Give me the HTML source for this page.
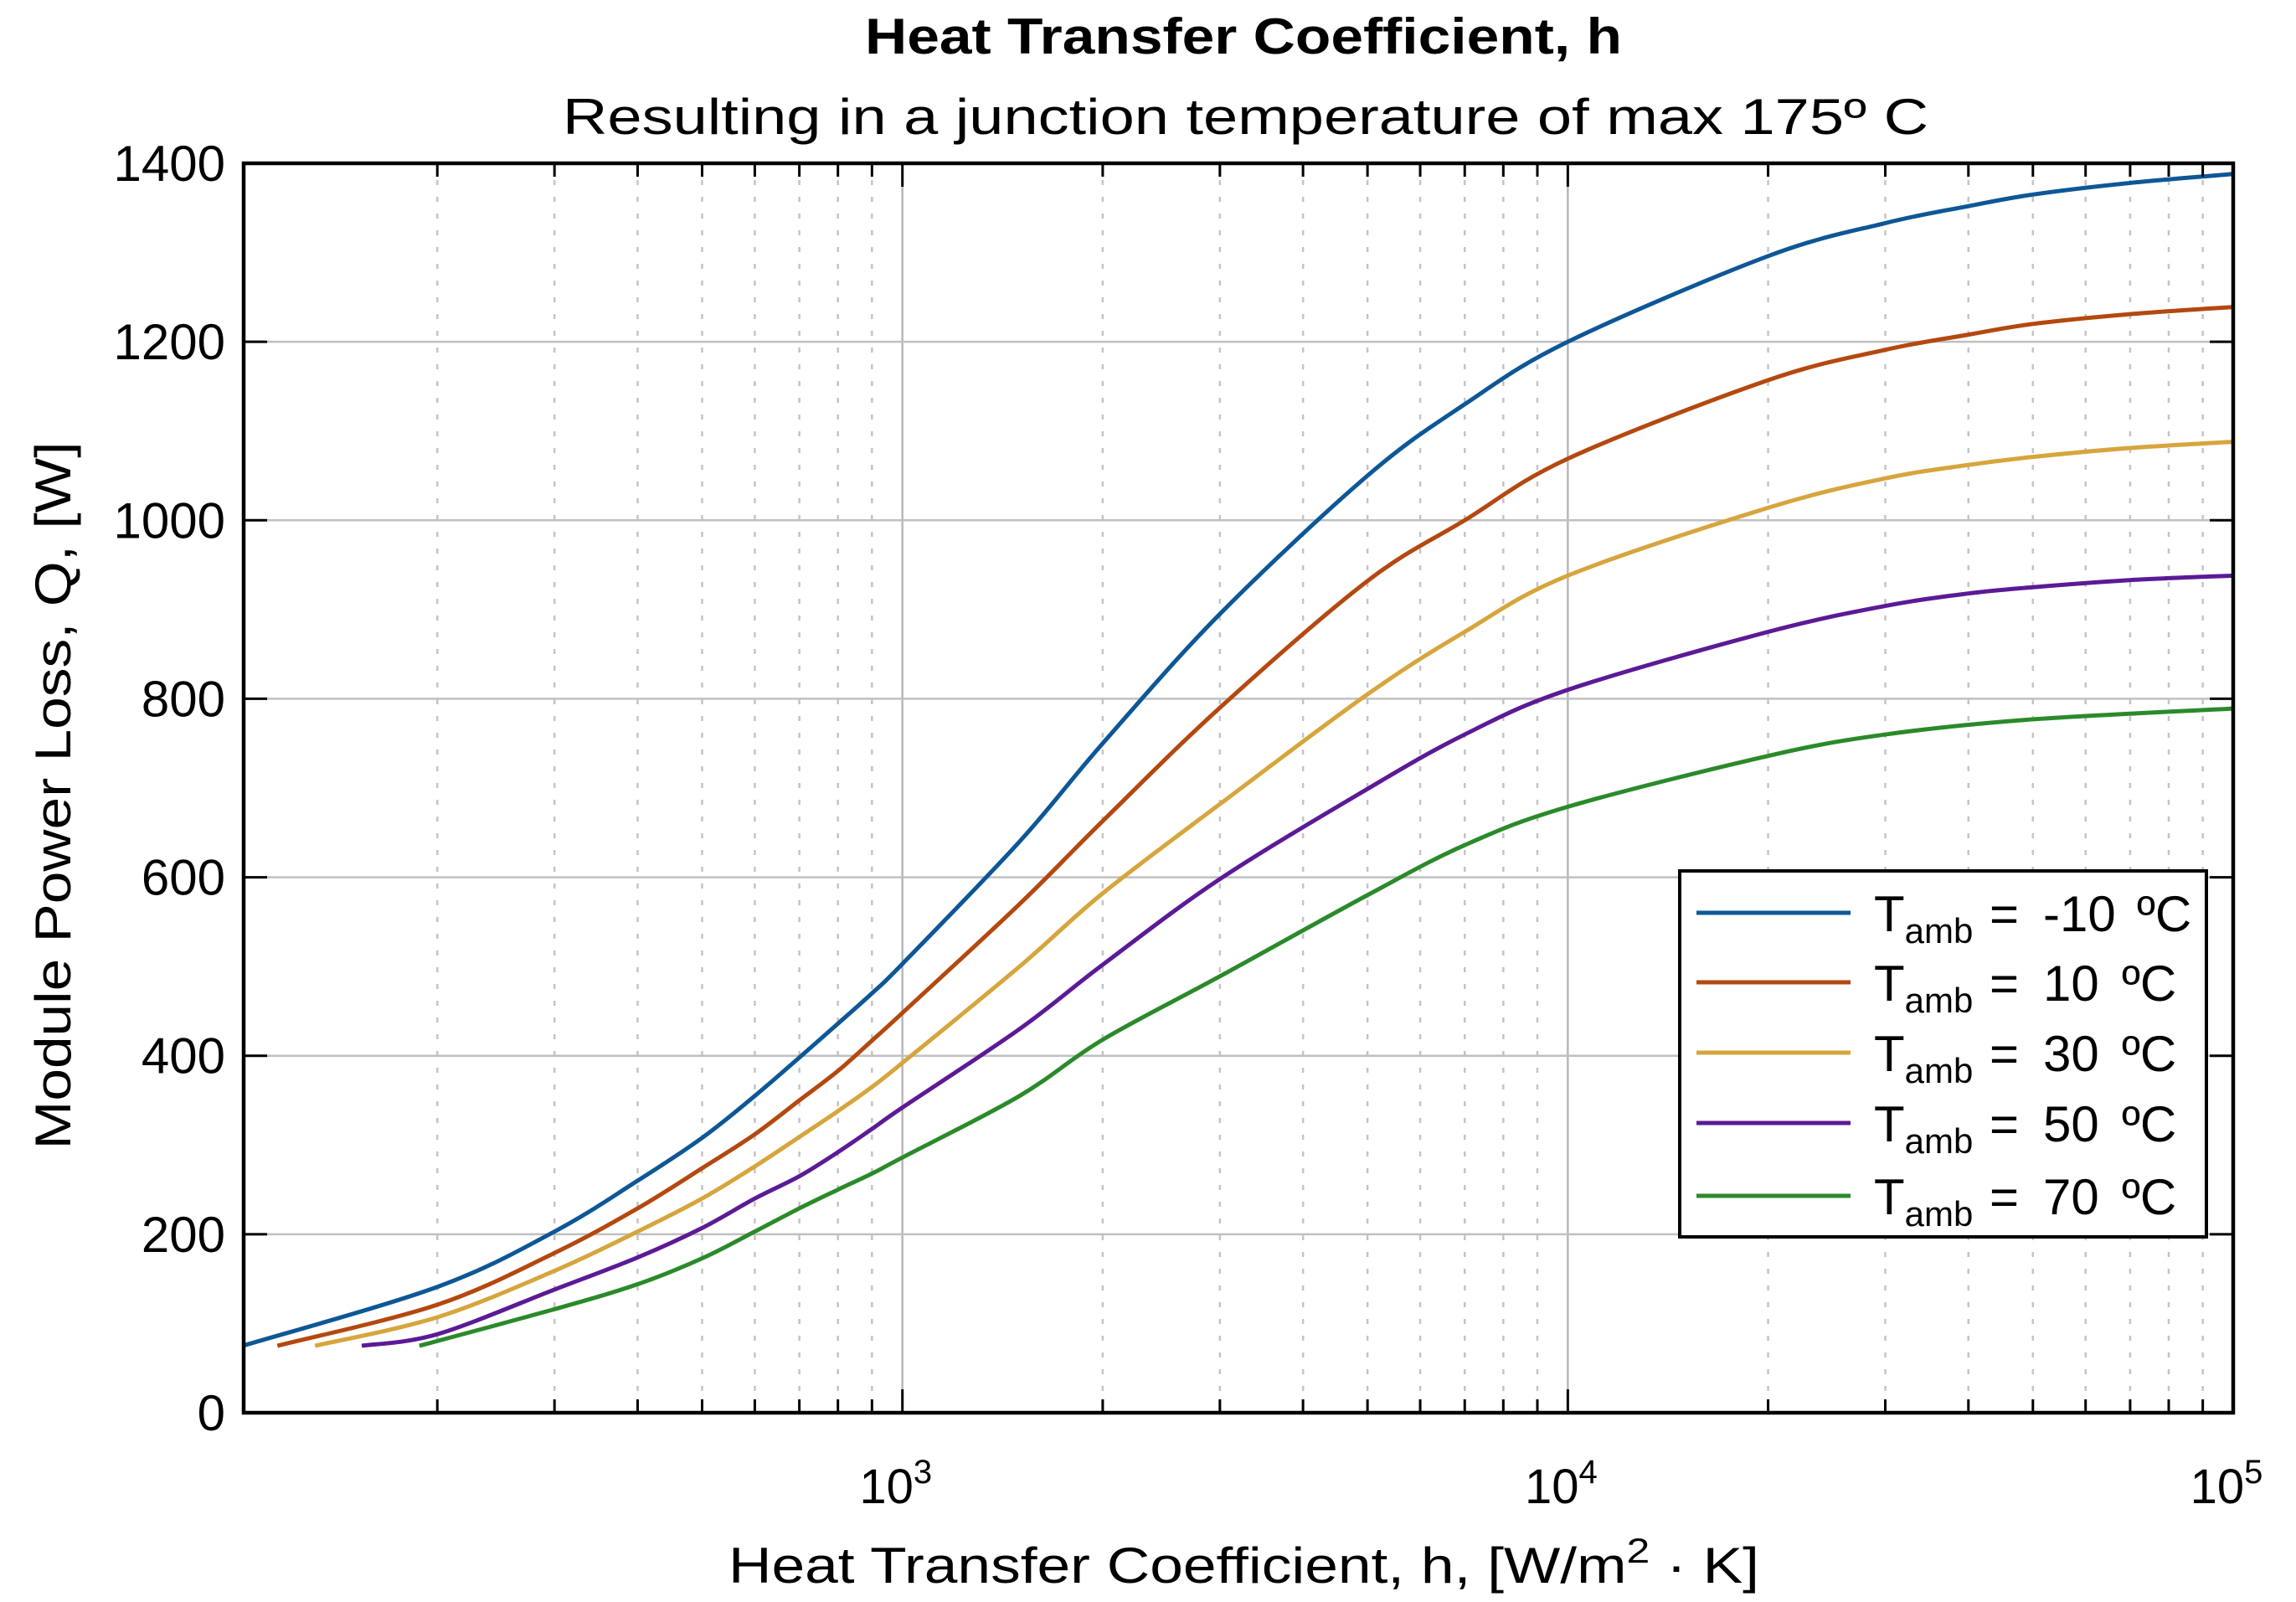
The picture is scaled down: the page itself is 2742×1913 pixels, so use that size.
<!DOCTYPE html>
<html><head><meta charset="utf-8">
<style>
html,body{margin:0;padding:0;background:#fff;}
svg{display:block;}
text{font-family:"Liberation Sans",Arial,sans-serif;fill:#000;}
</style></head>
<body>
<svg id="chart" width="2742" height="1913" viewBox="0 0 2742 1913" xmlns="http://www.w3.org/2000/svg">
<text x="1033" y="64" font-size="60" font-weight="bold" textLength="904" lengthAdjust="spacingAndGlyphs">Heat Transfer Coefficient, h</text>
<text x="672" y="160" font-size="60" textLength="1631" lengthAdjust="spacingAndGlyphs">Resulting  in  a  junction  temperature  of  max  175º  C</text>
<g id="grid"></g>
<g id="series"></g>
<g id="axes"></g>
<text x="870" y="1890" font-size="60" textLength="1231" lengthAdjust="spacingAndGlyphs">Heat  Transfer  Coefficient,  h,  [W/m<tspan dy="-24" font-size="42">2</tspan><tspan dy="24"> · K]</tspan></text>
<text transform="translate(84,950) rotate(-90)" text-anchor="middle" font-size="60" textLength="845" lengthAdjust="spacingAndGlyphs">Module Power Loss, Q, [W]</text>
<g id="legend"></g>
</svg>
<script>
const hBlue   = [102,200,300,400,500,600,700,800,900,1000,1500,2000,3000,5000,7000,10000,20000,30000,40000,50000,70000,100000];
const hRed    = [115,200,300,400,500,600,700,800,900,1000,1500,2000,3000,5000,7000,10000,20000,30000,40000,50000,70000,100000];
const hYellow = [131,200,300,400,500,600,700,800,900,1000,1500,2000,3000,5000,7000,10000,20000,30000,40000,50000,70000,100000];
const hPurple = [154,200,300,400,500,600,700,800,900,1000,1500,2000,3000,5000,7000,10000,20000,30000,40000,50000,70000,100000];
const hGreen  = [188,300,400,500,600,700,800,900,1000,1500,2000,3000,5000,7000,10000,20000,30000,50000,100000];
const qM10 = [75,141,203,260,308,355,398,436,470,503,640,750,895,1050,1130,1200,1296,1333,1352,1365,1378,1388];
const q10  = [75,121,179,229,274,312,350,383,417,448,570,663,790,932,1000,1069,1157,1191,1208,1220,1231,1239];
const q30  = [75,107,159,203,240,276,309,338,365,392,500,582,682,805,875,938,1014,1047,1062,1071,1081,1088];
const q50  = [75,88,138,174,207,240,265,292,318,342,430,502,598,699,760,810,875,904,918,925,933,938];
const q70  = [75,116,144,173,203,229,250,268,286,355,418,489,580,636,679,736,760,777,789];
const seriesNames = ["-10","10","30","50","70"];
const seriesColors = ["#0d5796","#b4480f","#d6a53c","#5b1a96","#2a8a2a"];
const yTicks = [0,200,400,600,800,1000,1200,1400];
const xDecades = [3,4,5];

const L=291,R=2667,T=195,B=1687;
const lgMin=2.01,lgMax=5.0,yMax=1400;
const xs = h => L + (Math.log10(h)-lgMin)/(lgMax-lgMin)*(R-L);
const ys = v => B - v/yMax*(B-T);
const NS="http://www.w3.org/2000/svg";
function mk(tag, attrs, parent){const e=document.createElementNS(NS,tag);for(const k in attrs)e.setAttribute(k,attrs[k]);parent.appendChild(e);return e;}
const grid=document.getElementById('grid'), axes=document.getElementById('axes'), ser=document.getElementById('series'), leg=document.getElementById('legend');

for(let d=2; d<5; d++){
  for(let m=1;m<10;m++){
    const h=m*Math.pow(10,d); if(Math.log10(h)<lgMin) continue;
    const x=xs(h);
    if(m===1){
      const g=mk('line',{x1:x,x2:x,y1:T,y2:B,stroke:'#b8b8b8','stroke-width':2.5},grid);
      
      
    } else {
      const g=mk('line',{x1:x,x2:x,y1:T,y2:B,stroke:'#c4c4c4','stroke-width':2.5,'stroke-dasharray':'6 14'},grid);
      
      
    }
    const t1=mk('line',{x1:x,x2:x,y1:B,y2:B-(m===1?28:16),stroke:'#000','stroke-width':3},axes);
    
    
    const t2=mk('line',{x1:x,x2:x,y1:T,y2:T+(m===1?28:16),stroke:'#000','stroke-width':3},axes);
    
    
  }
}
yTicks.forEach(v=>{
  const y=ys(v);
  if(v>0&&v<yMax){
    const g=mk('line',{x1:L,x2:R,y1:y,y2:y,stroke:'#c0c0c0','stroke-width':2.5},grid);
    
    
  }
  const t=mk('line',{x1:L,x2:L+28,y1:y,y2:y,stroke:'#000','stroke-width':3},axes);
  
  
  const t2=mk('line',{x1:R,x2:R-28,y1:y,y2:y,stroke:'#000','stroke-width':3},axes);
  
  
  const lb=mk('text',{x:L-22,y:y+21,'text-anchor':'end','font-size':60},axes);
  lb.textContent=v;
  
  
});
xDecades.forEach(d=>{
  const x=xs(Math.pow(10,d));
  const lb=mk('text',{x:x-8,y:1795,'text-anchor':'middle','font-size':58},axes);
  lb.textContent='10';
  const s=mk('tspan',{dy:-24,'font-size':40},lb); s.textContent=d;
  
  
});
const frame=mk('rect',{x:L,y:T,width:R-L,height:B-T,fill:'none',stroke:'#000','stroke-width':4.5},axes);



const hAll=[hBlue,hRed,hYellow,hPurple,hGreen];
const qAll=[qM10,q10,q30,q50,q70];
function pathFor(hs,qs){
  const p=hs.map((h,i)=>[xs(h),ys(qs[i])]);
  let d=`M${p[0][0]},${p[0][1]}`;
  for(let i=0;i<p.length-1;i++){
    const p0=p[Math.max(0,i-1)],p1=p[i],p2=p[i+1],p3=p[Math.min(p.length-1,i+2)];
    const c1=[p1[0]+(p2[0]-p0[0])/6,p1[1]+(p2[1]-p0[1])/6];
    const c2=[p2[0]-(p3[0]-p1[0])/6,p2[1]-(p3[1]-p1[1])/6];
    d+=` C${c1[0]},${c1[1]} ${c2[0]},${c2[1]} ${p2[0]},${p2[1]}`;
  }
  return d;
}
qAll.forEach((qs,i)=>{
  const pth=mk('path',{d:pathFor(hAll[i],qs),fill:'none',stroke:seriesColors[i],'stroke-width':5,'stroke-linejoin':'round'},ser);
  
  
});

const lb=mk('rect',{x:2006,y:1040,width:629,height:437,fill:'#fff',stroke:'#000','stroke-width':4},leg);


const legY=[1090,1173,1257,1341,1428];
seriesNames.forEach((n,i)=>{
  const g=mk('g',{},leg);
  
  
  mk('line',{x1:2026,x2:2210,y1:legY[i],y2:legY[i],stroke:seriesColors[i],'stroke-width':5},g);
  const t=mk('text',{x:2238,y:legY[i]+22,'font-size':60},g);
  t.textContent='T';
  const s=mk('tspan',{dy:14,'font-size':42},t); s.textContent='amb';
  const s2=mk('tspan',{x:2376,dy:-14},t); s2.textContent='=';
  const s3=mk('tspan',{x:2440},t); s3.textContent=n;
  const s4=mk('tspan',{x:(n.startsWith('-')?2552:2534)},t); s4.textContent='ºC';
});
</script>
</body></html>
